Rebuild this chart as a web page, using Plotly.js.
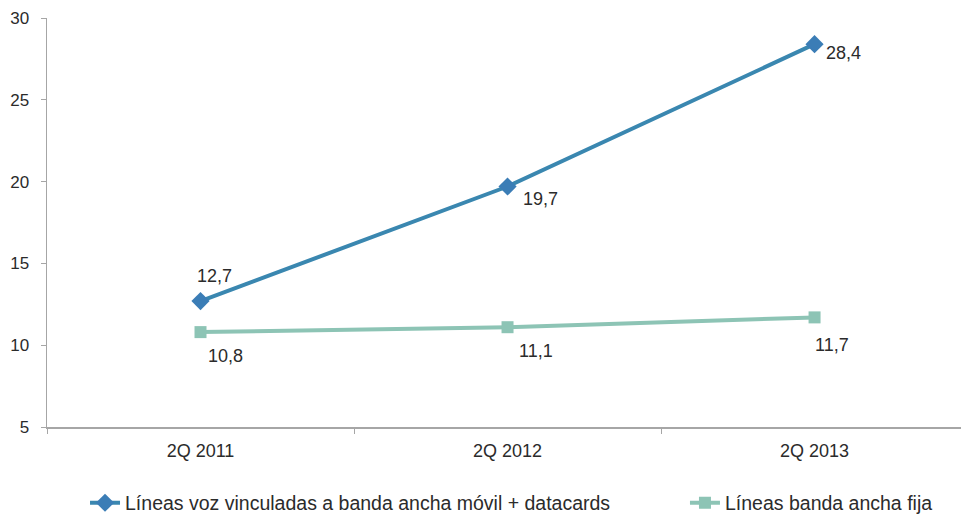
<!DOCTYPE html>
<html>
<head>
<meta charset="utf-8">
<script src="https://cdn.plot.ly/plotly-3.0.1.min.js"></script>
<style>html,body{margin:0;padding:0;background:#fff;}#chart{width:961px;height:520px;}</style>
</head>
<body>
<div id="chart"></div>
<script>
const categories = ["2Q 2011", "2Q 2012", "2Q 2013"];
const movilValues = [12.7, 19.7, 28.4];
const fijaValues = [10.8, 11.1, 11.7];
const seriesNames = ["Líneas voz vinculadas a banda ancha móvil + datacards", "Líneas banda ancha fija"];
const yTicks = [5, 10, 15, 20, 25, 30];

// label offsets (pixels) relative to each point
const movilLabelShift = [[14, 25], [33, -12], [29, -9]];
const fijaLabelShift = [[25, -24], [28, -24], [17, -28]];

const fontFam = '"Liberation Sans", Arial, sans-serif';
const txtColor = '#2b2b2b';
const traces = [
  {
    x: categories, y: movilValues, name: seriesNames[0],
    type: 'scatter', mode: 'lines+markers',
    line: {color: '#3A87B0', width: 4},
    marker: {symbol: 'diamond', size: 14, color: '#3B7DB6'},
    cliponaxis: false,
    legend: 'legend'
  },
  {
    x: categories, y: fijaValues, name: seriesNames[1],
    type: 'scatter', mode: 'lines+markers',
    line: {color: '#8DC4B5', width: 4},
    marker: {symbol: 'square', size: 12, color: '#8DC4B5'},
    cliponaxis: false,
    legend: 'legend2'
  }
];

const fmt = v => v.toFixed(1).replace('.', ',');
const annotations = [];
function addLabels(vals, shifts) {
  vals.forEach((v, i) => {
    annotations.push({
      x: categories[i], y: v, xref: 'x', yref: 'y',
      text: fmt(v), showarrow: false,
      xanchor: 'center', yanchor: 'middle',
      xshift: shifts[i][0], yshift: shifts[i][1],
      font: {family: fontFam, size: 18, color: txtColor}
    });
  });
}
addLabels(movilValues, movilLabelShift);
addLabels(fijaValues, fijaLabelShift);

const legendFont = {family: fontFam, size: 19.5, color: txtColor};
const layout = {
  width: 961, height: 520,
  margin: {l: 47, r: 0, t: 18, b: 93, pad: 0, autoexpand: false},
  paper_bgcolor: '#fff', plot_bgcolor: '#fff',
  font: {family: fontFam, color: txtColor, size: 14},
  showlegend: true,
  annotations: annotations,
  legend: {
    orientation: 'h', x: 0.0416, xanchor: 'left', y: -0.186, yanchor: 'middle',
    font: legendFont, bgcolor: 'rgba(0,0,0,0)'
  },
  legend2: {
    orientation: 'h', x: 0.698, xanchor: 'left', y: -0.186, yanchor: 'middle',
    font: legendFont, bgcolor: 'rgba(0,0,0,0)'
  },
  xaxis: {
    type: 'category', range: [-0.5, 2.477],
    showline: true, linecolor: '#A6A6A6', linewidth: 1.5,
    ticks: 'outside', tickson: 'boundaries', ticklen: 5, tickcolor: '#A6A6A6',
    ticklabelstandoff: 7,
    showgrid: false, zeroline: false,
    tickfont: {family: fontFam, size: 18, color: txtColor},
    fixedrange: true
  },
  yaxis: {
    range: [5, 30], tickvals: yTicks,
    showline: true, linecolor: '#A6A6A6', linewidth: 1.5,
    ticks: 'outside', ticklen: 5, tickcolor: '#A6A6A6',
    ticklabelstandoff: 8,
    showgrid: false, zeroline: false,
    tickfont: {family: fontFam, size: 17, color: txtColor},
    fixedrange: true
  }
};

Plotly.newPlot('chart', traces, layout, {displayModeBar: false, staticPlot: true});
</script>
</body>
</html>
